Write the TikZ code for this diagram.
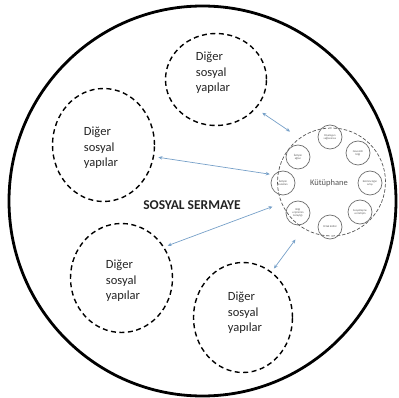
\documentclass[tikz,border=0pt]{standalone}
\usepackage{fontspec}
\setmainfont{Carlito}
\usetikzlibrary{shapes.geometric,arrows.meta}
\definecolor{arrowblue}{RGB}{118,160,200}
\definecolor{libgray}{RGB}{85,85,85}
\definecolor{txtdark}{RGB}{35,35,35}
\begin{document}
\begin{tikzpicture}[x=1pt,y=-1pt,
  outerring/.style={ellipse, draw, line width=2.8pt, inner sep=0pt},
  otherring/.style={ellipse, draw, line width=1.4pt, dash pattern=on 5pt off 3.5pt, inner sep=0pt},
  libring/.style={circle, draw=libgray, line width=0.7pt, dash pattern=on 3.5pt off 1.8pt, inner sep=0pt, minimum size=108pt},
  smallring/.style={circle, draw=libgray!85, line width=0.7pt, inner sep=0pt, minimum size=24pt, font=\fontsize{2.8}{3.2}\selectfont, text=libgray, align=center},
  othertext/.style={align=left, font=\fontsize{12.5}{15.5}\selectfont, text=txtdark},
  link/.style={draw=arrowblue, line width=0.7pt, {Stealth[length=4pt,width=3.5pt]}-{Stealth[length=4pt,width=3.5pt]}}
]
\useasboundingbox (0,0) rectangle (399,398);

\node[outerring, minimum width=387pt, minimum height=390pt] (sermaye) at (202.5,201) {};

\node[otherring, minimum width=101pt, minimum height=92pt] (o1) at (216,79.5) {};
\node[otherring, minimum width=102pt, minimum height=113pt] (o2) at (103.5,145) {};
\node[otherring, minimum width=102pt, minimum height=109pt] (o3) at (121.5,278) {};
\node[otherring, minimum width=99pt, minimum height=110pt] (o4) at (243,317.5) {};

\node[othertext] (t1) at (213,73) {Diğer\\sosyal\\yapılar};
\node[othertext] (t2) at (101,148) {Diğer\\sosyal\\yapılar};
\node[othertext] (t3) at (123,281) {Diğer\\sosyal\\yapılar};
\node[othertext] (t4) at (245,313) {Diğer\\sosyal\\yapılar};

\node[font=\bfseries\fontsize{13.5}{16}\selectfont, text=txtdark] (ss) at (192,205) {SOSYAL SERMAYE};

\node[libring] (lib) at (331.5,182) {};
\node[font=\fontsize{8.5}{10}\selectfont, text=libgray] (kut) at (329,183) {Kütüphane};

\node[smallring] (s1) at (330,137) {Diyalogun\\sağlanması};
\node[smallring] (s2) at (358,153) {Güvenilir\\bilgi};
\node[smallring] (s3) at (370,183) {Katılımcılığın\\artışı};
\node[smallring] (s4) at (360,212) {Sosyalleşme\\ve iletişim};
\node[smallring] (s5) at (330,227) {Ortak kültür};
\node[smallring] (s6) at (298,213) {Bilgi\\erişiminin\\kolaylığı};
\node[smallring] (s7) at (283,183) {İletişim\\kanalları};
\node[smallring] (s8) at (298,157) {İletişim\\ağları};

\draw[link, shorten <=7.5pt, shorten >=11.5pt] (o1.-36) -- (lib.126);
\draw[link, shorten <=4.3pt, shorten >=7.9pt] (o2.-13.4) -- (lib.173.5);
\draw[link, shorten <=3.6pt, shorten >=9.6pt] (o3.36) -- (lib.203.1);
\draw[link, shorten <=4pt, shorten >=13.5pt] (o4.58.8) -- (lib.239.3);
\end{tikzpicture}
\end{document}
